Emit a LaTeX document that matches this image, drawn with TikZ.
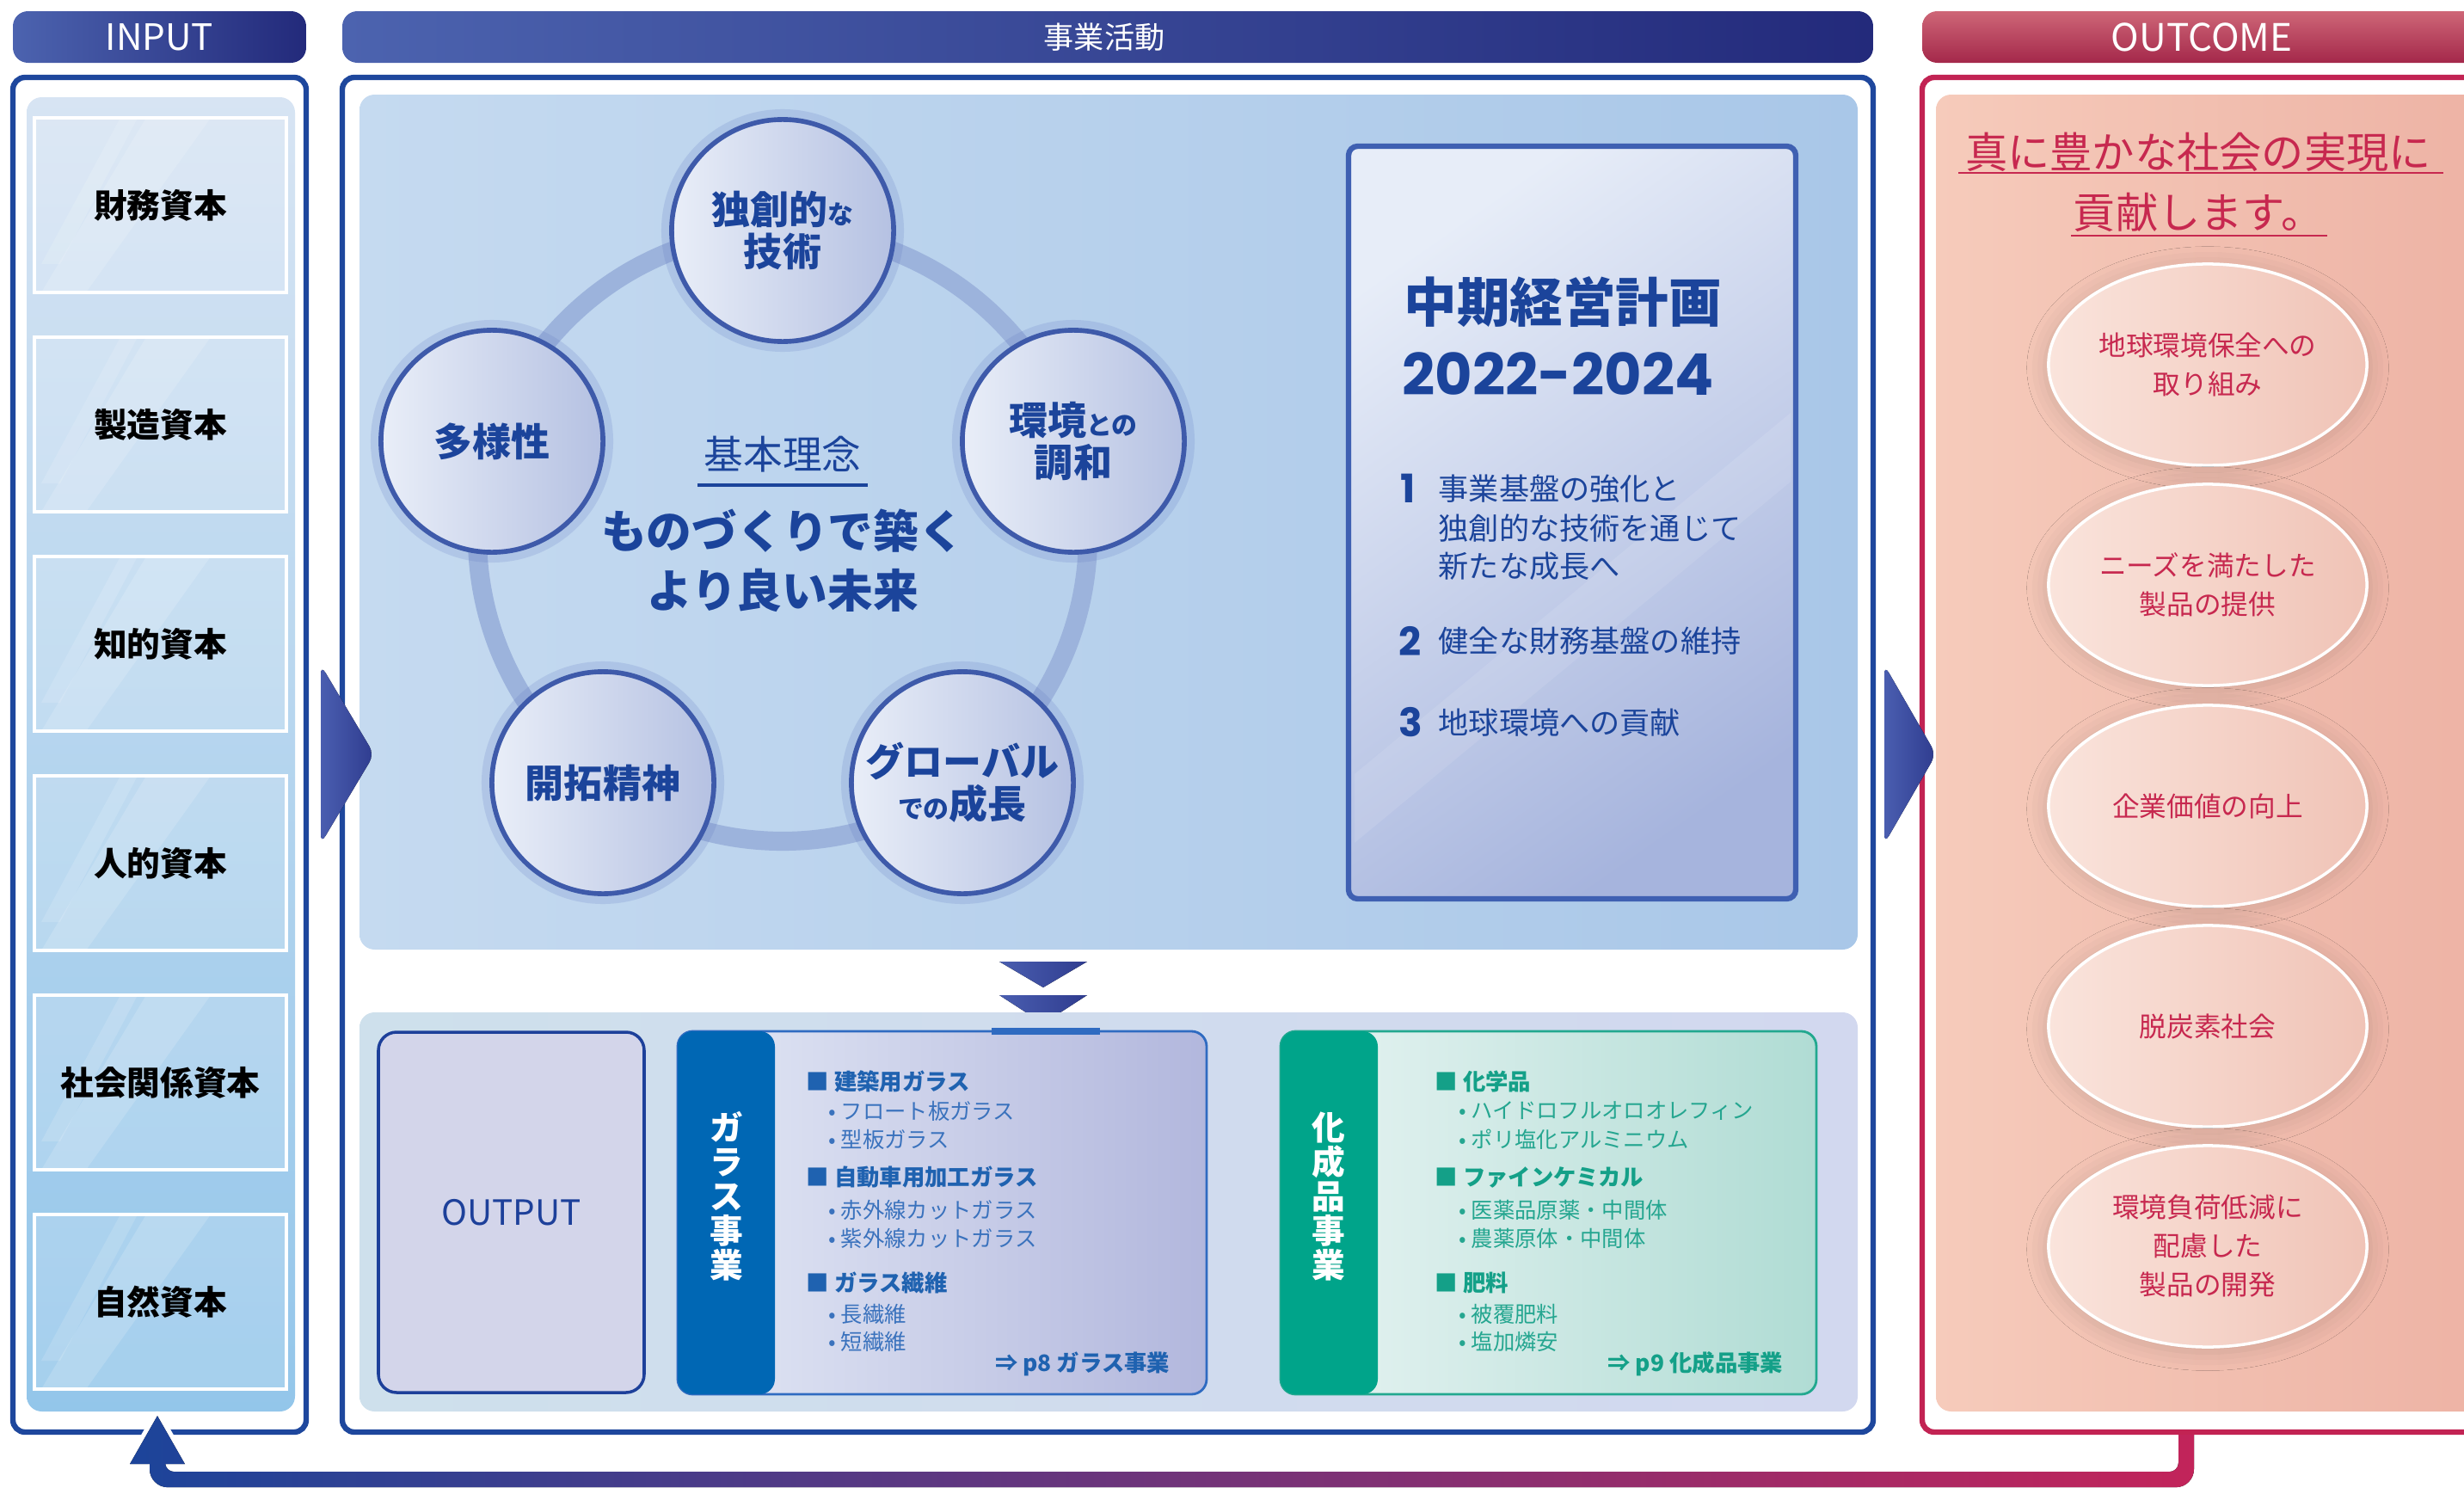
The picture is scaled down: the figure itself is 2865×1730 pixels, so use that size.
\documentclass[tikz,border=0pt]{standalone}
\usepackage{fontspec}
\setmainfont{Noto Sans CJK JP}
\newfontfamily\popfont{Poppins}
\usetikzlibrary{fit,shapes.geometric,shadows.blur,calc}
\newcommand\fsz[2]{\fontsize{#1}{#2}\selectfont}

\definecolor{hdrL}{HTML}{4C63AF}
\definecolor{hdrD}{HTML}{232A7B}
\definecolor{frameB}{HTML}{1E479D}
\definecolor{inTop}{HTML}{D7E4F3}
\definecolor{inBot}{HTML}{93C6EA}
\definecolor{bizL}{HTML}{C5DAF0}
\definecolor{bizR}{HTML}{A9C7E8}
\definecolor{ringC}{HTML}{9CB3DC}
\definecolor{circB}{HTML}{3E5AAA}
\definecolor{circL}{HTML}{E9EEF8}
\definecolor{circR}{HTML}{B5C1E2}
\definecolor{glowC}{HTML}{5A72C0}
\definecolor{navyT}{HTML}{1B449B}
\definecolor{planB}{HTML}{3F60B2}
\definecolor{planL}{HTML}{E7EDF8}
\definecolor{planR}{HTML}{A6B4DD}
\definecolor{lowL}{HTML}{CEE0EC}
\definecolor{lowR}{HTML}{D2D8EF}
\definecolor{outBoxF}{HTML}{D3D5EA}
\definecolor{outBoxB}{HTML}{1D409A}
\definecolor{glassBar}{HTML}{0067B4}
\definecolor{glassL}{HTML}{E3E8F5}
\definecolor{glassR}{HTML}{B2B7DD}
\definecolor{glassB}{HTML}{2F6BC1}
\definecolor{glassT}{HTML}{1F62B0}
\definecolor{glassS}{HTML}{3A72BD}
\definecolor{chemBar}{HTML}{00A48A}
\definecolor{chemL}{HTML}{E8F4F3}
\definecolor{chemR}{HTML}{B0DCD4}
\definecolor{chemB}{HTML}{22A88F}
\definecolor{chemT}{HTML}{14A088}
\definecolor{chemS}{HTML}{25A690}
\definecolor{ocTop}{HTML}{CE6677}
\definecolor{ocBot}{HTML}{A4284A}
\definecolor{ocFrame}{HTML}{C22353}
\definecolor{ocL}{HTML}{F6CBBB}
\definecolor{ocR}{HTML}{EDB2A4}
\definecolor{ocT}{HTML}{C7284F}
\definecolor{ovalL}{HTML}{FAE4DC}
\definecolor{ovalR}{HTML}{F0C3B6}
\definecolor{arrD}{HTML}{2F3C8F}
\definecolor{arrL}{HTML}{4A5EB0}
\definecolor{retL}{HTML}{1C449A}
\definecolor{retM}{HTML}{5E3E8E}
\definecolor{retR}{HTML}{C2245A}

\tikzset{
  hdr/.style={inner sep=0pt, rounded corners=5pt, draw=none},
  hdrtext/.style={text=white, inner sep=0pt},
  frameblue/.style={inner sep=0pt, rounded corners=4pt, draw=frameB, line width=1.8pt, fill=white},
  framered/.style={inner sep=0pt, rounded corners=4pt, draw=ocFrame, line width=1.8pt, fill=white},
  panel/.style={inner sep=0pt, rounded corners=5pt, draw=none},
  inbox/.style={inner sep=0pt, draw=white, line width=0.9pt, fill=white, fill opacity=0.16},
  intext/.style={inner sep=0pt, font=\bfseries\fsz{11}{13}, text=black},
  pcirc/.style={circle, minimum size=2.58cm, inner sep=0pt, draw=circB, line width=1.6pt,
     left color=circL, right color=circR, text=navyT, align=center, font=\bfseries\fsz{12.8}{14}},
  glow/.style={glowC, opacity=0.18, line width=4pt},
  plantext/.style={anchor=west, inner sep=0pt, text=navyT},
  arrtri/.style={left color=arrL, right color=arrD, draw=none},
  gh/.style={anchor=west, inner sep=0pt, text=glassT, font=\bfseries\fsz{7.5}{9}},
  gs/.style={anchor=west, inner sep=0pt, text=glassS, font=\fsz{7.2}{9}},
  ch/.style={anchor=west, inner sep=0pt, text=chemT, font=\bfseries\fsz{7.5}{9}},
  cs/.style={anchor=west, inner sep=0pt, text=chemS, font=\fsz{7.2}{9}},
  vbar/.style={inner sep=0pt, text=white, align=center, font=\bfseries\fsz{11}{11.4}},
  oval/.style={ellipse, minimum width=3.7cm, minimum height=2.34cm, inner sep=0pt,
     left color=ovalL, right color=ovalR, draw=white, line width=1pt, text=ocT, align=center,
     font=\fsz{9}{12.8},
     blur shadow={shadow xshift=0pt, shadow yshift=-1pt, shadow scale=1.02, shadow opacity=14, shadow blur radius=6pt}},
}

\begin{document}
\begin{tikzpicture}[x=0.01cm,y=-0.01cm]
\useasboundingbox (0,0) rectangle (2865,1730);

% ---------- headers ----------
\node[hdr, left color=hdrL, right color=hdrD, fit={(15,13)(356,73)}] (hin) {};
\node[hdrtext, font=\fsz{12}{14}] (hintext) at (hin.center) {INPUT};
\node[hdr, left color=hdrL, right color=hdrD, fit={(398,13)(2178,73)}] (hbiz) {};
\node[hdrtext, font=\fsz{10}{12}] (hbiztext) at (1284,43) {事業活動};
\node[hdr, top color=ocTop, bottom color=ocBot, fit={(2235,13)(2905,73)}] (hout) {};
\node[hdrtext, font=\fsz{12.5}{14}] (houttext) at (2560,43) {OUTCOME};

% ---------- frames ----------
\node[frameblue, fit={(15,90)(356,1665)}] (inframe) {};
\node[frameblue, fit={(398,90)(2178,1665)}] (bizframe) {};
\node[framered, fit={(2235,90)(2905,1665)}] (outframe) {};

% ---------- input panel ----------
\node[panel, top color=inTop, bottom color=inBot, fit={(31,113)(343,1641)}] (inpanel) {};
\foreach \i/\t in {0/財務資本,1/製造資本,2/知的資本,3/人的資本,4/社会関係資本,5/自然資本}{
  \pgfmathsetmacro\yt{137+255*\i}
  \pgfmathsetmacro\yb{\yt+203}
  \fill[white, opacity=0.16] (170,\yt) -- (245,\yt) -- (100,\yb) -- (48,\yb) -- cycle;
  \fill[white, opacity=0.14] (140,\yt) -- (160,\yt) -- (70,\yt+170) -- (48,\yt+170) -- cycle;
  \node[inbox, fit={(40,\yt)(333,\yb)}] (in\i) {};
  \node[intext] (in\i t) at (in\i.center) {\t};
}

% ---------- business upper panel ----------
\node[panel, left color=bizL, right color=bizR, fit={(418,110)(2160,1104)}] (bizpanel) {};
\draw[ringC, line width=6.3pt] (910,623) circle[radius=355];

\foreach \p in {(910,268),(572,513),(1248,513),(701,910),(1119,910)}{
  \draw[glow] \p circle[radius=134];
}
\node[pcirc] (c1) at (910,268) {独創的{\fsz{8.5}{10}な}\\技術};
\node[pcirc] (c2) at (572,513) {多様性};
\node[pcirc] (c3) at (1248,513) {環境{\fsz{8.5}{10}との}\\調和};
\node[pcirc] (c4) at (701,910) {開拓精神};
\node[pcirc] (c5) at (1119,910) {グローバル\\{\fsz{8.5}{10}での}成長};

\node[text=navyT, font=\fsz{13}{15}, inner sep=2pt] (kihon) at (910,528) {基本理念};
\draw[navyT, line width=1pt] ([yshift=-2pt]kihon.south west) -- ([yshift=-2pt]kihon.south east);
\node[text=navyT, align=center, font=\bfseries\fsz{15}{19.6}] (motto) at (910,652) {ものづくりで築く\\より良い未来};

% plan box
\node[inner sep=0pt, rounded corners=3pt, draw=planB, line width=1.8pt,
      top color=planL, bottom color=planR, shading angle=35,
      fit={(1568,170)(2088,1045)}] (plan) {};
\fill[white, opacity=0.10] (1575,900) -- (2082,480) -- (2082,560) -- (1575,980) -- cycle;
\node[plantext, font=\bfseries\fsz{17.5}{20}] (ptitle) at (1632,351) {中期経営計画};
\node[plantext, font=\popfont\bfseries\fsz{19}{20}] (pyear) at (1630,435) {2022-2024};
\node[plantext, font=\popfont\bfseries\fsz{13}{15}] (n1) at (1628,568) {1};
\node[plantext, font=\fsz{10}{12}] (t1a) at (1672,568) {事業基盤の強化と};
\node[plantext, font=\fsz{10}{12}] (t1b) at (1672,614) {独創的な技術を通じて};
\node[plantext, font=\fsz{10}{12}] (t1c) at (1672,658) {新たな成長へ};
\node[plantext, font=\popfont\bfseries\fsz{13}{15}] (n2) at (1626,745) {2};
\node[plantext, font=\fsz{10}{12}] (t2) at (1672,745) {健全な財務基盤の維持};
\node[plantext, font=\popfont\bfseries\fsz{13}{15}] (n3) at (1626,840) {3};
\node[plantext, font=\fsz{10}{12}] (t3) at (1672,840) {地球環境への貢献};

% down arrows
\fill[arrtri] (1162,1118) -- (1264,1118) -- (1213,1148) -- cycle;
\fill[arrtri] (1162,1157) -- (1264,1157) -- (1213,1190) -- cycle;

% ---------- business lower panel ----------
\node[panel, left color=lowL, right color=lowR, fit={(418,1177)(2160,1641)}] (lowpanel) {};
\node[inner sep=0pt, rounded corners=6pt, draw=outBoxB, line width=1pt, fill=outBoxF,
      fit={(440,1200)(749,1619)}] (output) {};
\node[inner sep=0pt, text=outBoxB, font=\fsz{11.5}{13}] (outputtext) at (output.center) {OUTPUT};

% glass business
\node[inner sep=0pt, rounded corners=5pt, draw=glassB, line width=0.8pt,
      left color=glassL, right color=glassR, fit={(788,1199)(1403,1621)}] (glass) {};
\draw[glassB, line width=2.2pt] (1153,1199) -- (1279,1199);
\node[inner sep=0pt, rounded corners=5pt, fill=glassBar, fit={(788,1199)(901,1621)}] (glassbar) {};
\node[vbar] (glasslabel) at (845,1391) {ガ\\ラ\\ス\\事\\業};
\node[gh] (g1) at (937,1257) {■ 建築用ガラス};
\node[gs] (g1a) at (963,1292) {• フロート板ガラス};
\node[gs] (g1b) at (963,1325) {• 型板ガラス};
\node[gh] (g2) at (937,1369) {■ 自動車用加工ガラス};
\node[gs] (g2a) at (963,1407) {• 赤外線カットガラス};
\node[gs] (g2b) at (963,1440) {• 紫外線カットガラス};
\node[gh] (g3) at (937,1491) {■ ガラス繊維};
\node[gs] (g3a) at (963,1528) {• 長繊維};
\node[gs] (g3b) at (963,1560) {• 短繊維};
\node[gh, anchor=east] (glink) at (1361,1586) {⇒ p8 ガラス事業};

% chemical business
\node[inner sep=0pt, rounded corners=5pt, draw=chemB, line width=0.8pt,
      left color=chemL, right color=chemR, fit={(1489,1199)(2112,1621)}] (chem) {};
\node[inner sep=0pt, rounded corners=5pt, fill=chemBar, fit={(1489,1199)(1602,1621)}] (chembar) {};
\node[vbar] (chemlabel) at (1545,1391) {化\\成\\品\\事\\業};
\node[ch] (k1) at (1668,1257) {■ 化学品};
\node[cs] (k1a) at (1696,1292) {• ハイドロフルオロオレフィン};
\node[cs] (k1b) at (1696,1325) {• ポリ塩化アルミニウム};
\node[ch] (k2) at (1668,1369) {■ ファインケミカル};
\node[cs] (k2a) at (1696,1407) {• 医薬品原薬・中間体};
\node[cs] (k2b) at (1696,1440) {• 農薬原体・中間体};
\node[ch] (k3) at (1668,1491) {■ 肥料};
\node[cs] (k3a) at (1696,1528) {• 被覆肥料};
\node[cs] (k3b) at (1696,1560) {• 塩加燐安};
\node[ch, anchor=east] (klink) at (2074,1586) {⇒ p9 化成品事業};

% ---------- outcome panel ----------
\node[panel, left color=ocL, right color=ocR, fit={(2251,110)(2905,1641)}] (ocpanel) {};
\node[text=ocT, font=\fsz{14}{16}, inner sep=2pt] (oct1) at (2556,177) {真に豊かな社会の実現に};
\draw[ocT, line width=0.7pt] (2277,201) -- (2841,201);
\node[text=ocT, font=\fsz{14}{16}, inner sep=2pt] (oct2) at (2556,247) {貢献します。};
\draw[ocT, line width=0.7pt] (2408,274) -- (2706,274);

\node[oval] (o1) at (2567,424) {地球環境保全への\\取り組み};
\node[oval] (o2) at (2567,680) {ニーズを満たした\\製品の提供};
\node[oval] (o3) at (2567,937) {企業価値の向上};
\node[oval] (o4) at (2567,1193) {脱炭素社会};
\node[oval] (o5) at (2567,1449) {環境負荷低減に\\配慮した\\製品の開発};

% ---------- flow arrows ----------
\fill[arrtri, rounded corners=3pt] (373,773) -- (435,877) -- (373,981) -- cycle;
\fill[arrtri, rounded corners=3pt] (2191,773) -- (2251,877) -- (2191,981) -- cycle;

% return arrow from OUTCOME back to INPUT
\coordinate (rs) at (outframe.south -| 2542,0);
\coordinate (rt) at ([yshift=0.22cm]inframe.south -| 183,0);
\draw[white, line width=3pt, line join=round] ($(rt)+(-33,57)$) -- (rt) -- ($(rt)+(33,57)$);
\fill[left color=retL, middle color=retM, right color=retR]
  ($(rs)+(-9,0)$) -- ($(rs)+(9,0)$) [rounded corners=6pt] -- ($(rs)+(9,61)$) -- ($(rt)+(-9,83)$) [sharp corners] -- ($(rt)+(-9,56)$)
  -- ($(rt)+(-32,56)$) -- (rt) -- ($(rt)+(32,56)$) -- ($(rt)+(9,56)$) [rounded corners=3pt] -- ($(rt)+(9,65)$) -- ($(rs)+(-9,43)$) [sharp corners] -- cycle;
\end{tikzpicture}
\end{document}
